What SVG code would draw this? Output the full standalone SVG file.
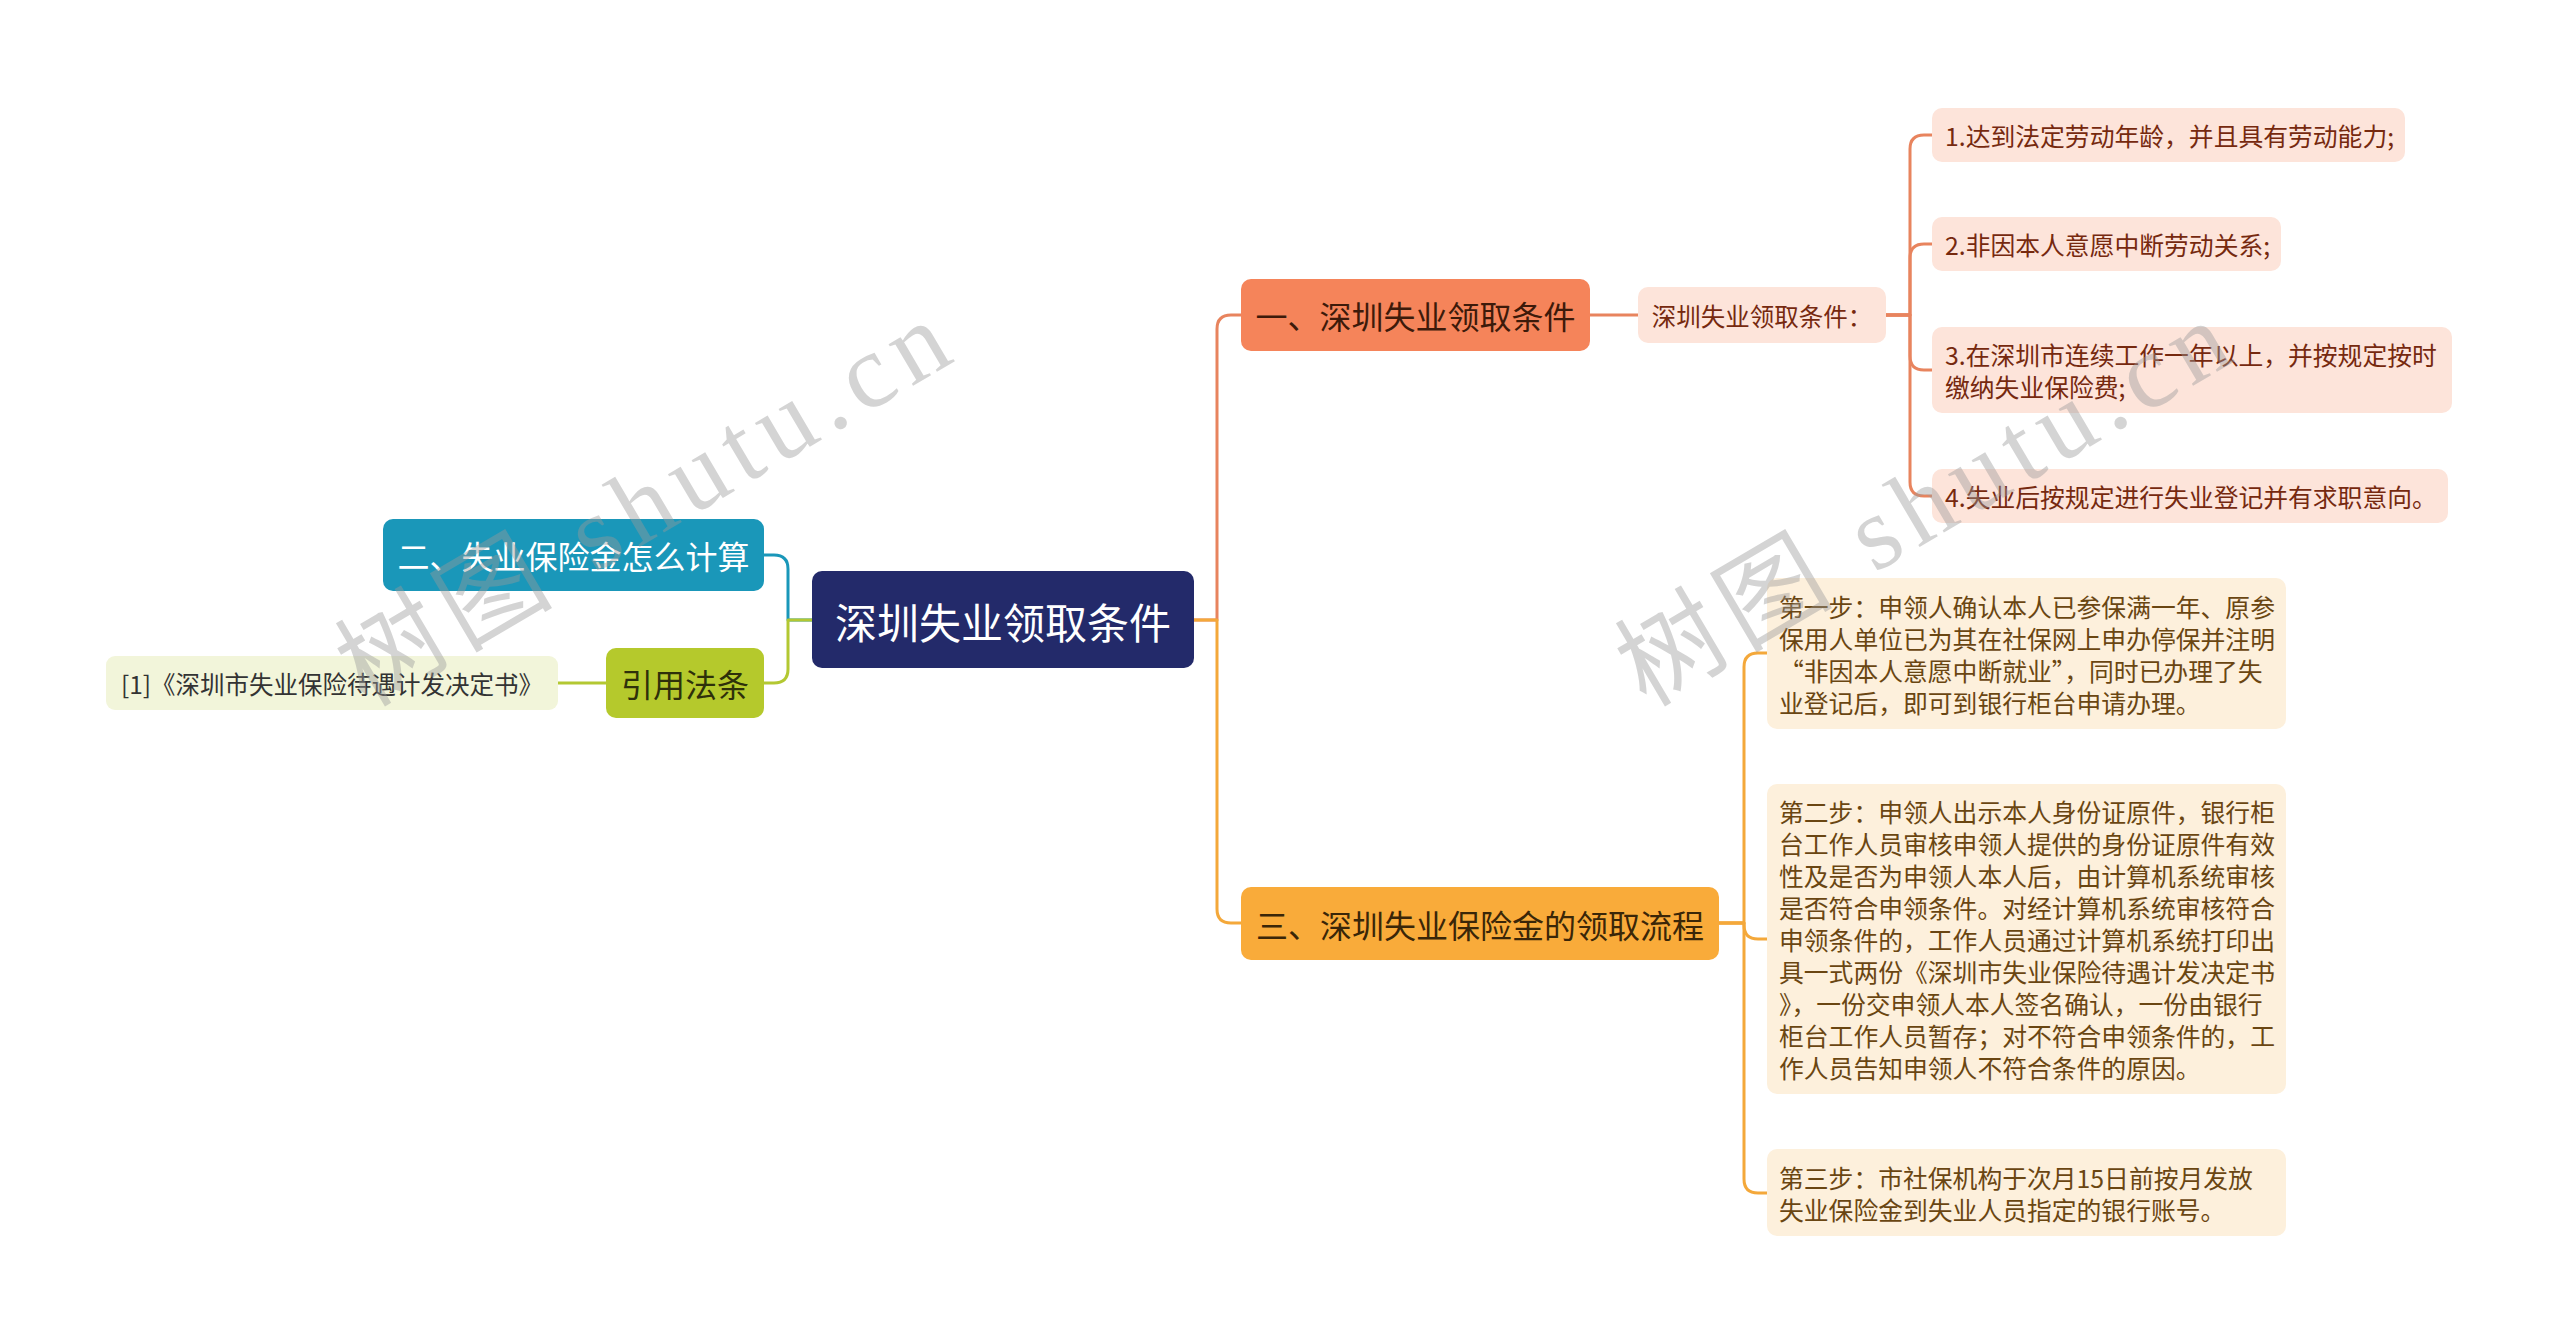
<svg xmlns="http://www.w3.org/2000/svg" width="2560" height="1344" viewBox="0 0 2560 1344">
<style>
text{font-family:"Noto Sans CJK SC","Noto Sans",sans-serif}
.c{fill:none;stroke-width:3;stroke-linecap:round;stroke-linejoin:round}
.or{stroke:#e8845e}.ye{stroke:#f4a83a}.te{stroke:#1a97b9}.gr{stroke:#b3c832}
.mid{text-anchor:middle;dominant-baseline:central}
.big{font-size:32px}
.sm{font-size:24.8px;dominant-baseline:central}
.leafO{fill:#fde4da}.tO{fill:#76290f}
.leafY{fill:#fdf0dc}.tY{fill:#6a4612}
.wm{font-family:"Liberation Serif","Noto Sans CJK SC",serif;font-size:105px;fill:#9a9a9a;opacity:0.42}
</style>
<rect width="2560" height="1344" fill="#ffffff"/>
<g id="connectors">
<path class="c or" d="M1194,620 H1217 V329 Q1217,315 1231,315 H1241"/>
<path class="c ye" d="M1194,620 H1217 V909 Q1217,923 1231,923 H1241"/>
<path class="c or" d="M1590,315 H1638"/>
<path class="c or" d="M1886,315 H1910 V149 Q1910,135 1924,135 H1932"/>
<path class="c or" d="M1886,315 H1910 V258 Q1910,244 1924,244 H1932"/>
<path class="c or" d="M1886,315 H1910 V356 Q1910,370 1924,370 H1932"/>
<path class="c or" d="M1886,315 H1910 V482 Q1910,496 1924,496 H1932"/>
<path class="c ye" d="M1719,923 H1744 V667 Q1744,653 1758,653 H1767"/>
<path class="c ye" d="M1719,923 H1744 V925 Q1744,939 1758,939 H1767"/>
<path class="c ye" d="M1719,923 H1744 V1179 Q1744,1193 1758,1193 H1767"/>
<path class="c te" d="M812,620 H788 V569 Q788,555 774,555 H764"/>
<path class="c gr" d="M812,620 H788 V669 Q788,683 774,683 H764"/>
<path class="c gr" d="M606,683 H558"/>
</g>
<g id="root">
<rect x="812" y="571" width="382" height="97" rx="10" fill="#232a6a"/>
<text class="mid" x="1003" y="620" font-size="42" fill="#ffffff">深圳失业领取条件</text>
</g>
<g id="n2">
<rect x="383" y="519" width="381" height="72" rx="10" fill="#1a97b9"/>
<text class="mid big" x="573.5" y="555" fill="#ffffff">二、失业保险金怎么计算</text>
</g>
<g id="cite">
<rect x="606" y="648" width="158" height="70" rx="10" fill="#b5c92c"/>
<text class="mid big" x="685" y="683" fill="#2e300a">引用法条</text>
</g>
<g id="cite1">
<rect x="106" y="656" width="452" height="54" rx="9" fill="#f2f5da"/>
<text class="mid" x="332" y="683" font-size="24.5" fill="#333333">[1]《深圳市失业保险待遇计发决定书》</text>
</g>
<g id="n1">
<rect x="1241" y="279" width="349" height="72" rx="10" fill="#f5845a"/>
<text class="mid big" x="1415.5" y="315" fill="#3d1a0a">一、深圳失业领取条件</text>
</g>
<g id="n1a">
<rect x="1638" y="287" width="248" height="56" rx="10" class="leafO"/>
<text class="mid tO" x="1762" y="315" font-size="24.5">深圳失业领取条件：</text>
</g>
<g id="c1">
<rect x="1932" y="108" width="473" height="54" rx="10" class="leafO"/>
<text class="sm tO" x="1945" y="135">1.达到法定劳动年龄，并且具有劳动能力;</text>
</g>
<g id="c2">
<rect x="1932" y="217" width="349" height="54" rx="10" class="leafO"/>
<text class="sm tO" x="1945" y="244">2.非因本人意愿中断劳动关系;</text>
</g>
<g id="c3">
<rect x="1932" y="327" width="520" height="86" rx="10" class="leafO"/>
<text class="sm tO" x="1945" y="354">3.在深圳市连续工作一年以上，并按规定按时</text>
<text class="sm tO" x="1945" y="386">缴纳失业保险费;</text>
</g>
<g id="c4">
<rect x="1932" y="469" width="516" height="54" rx="10" class="leafO"/>
<text class="sm tO" x="1945" y="496">4.失业后按规定进行失业登记并有求职意向。</text>
</g>
<g id="n3">
<rect x="1241" y="887" width="478" height="73" rx="10" fill="#f9ab3a"/>
<text class="mid big" x="1480" y="923.5" fill="#3a2608">三、深圳失业保险金的领取流程</text>
</g>
<g id="s1">
<rect x="1767" y="578" width="519" height="151" rx="10" class="leafY"/>
<text class="sm tY" x="1779" y="606">第一步：申领人确认本人已参保满一年、原参</text>
<text class="sm tY" x="1779" y="638">保用人单位已为其在社保网上申办停保并注明</text>
<text class="sm tY" x="1779" y="670">“非因本人意愿中断就业”，同时已办理了失</text>
<text class="sm tY" x="1779" y="702">业登记后，即可到银行柜台申请办理。</text>
</g>
<g id="s2">
<rect x="1767" y="784" width="519" height="310" rx="10" class="leafY"/>
<text class="sm tY" x="1779" y="811">第二步：申领人出示本人身份证原件，银行柜</text>
<text class="sm tY" x="1779" y="843">台工作人员审核申领人提供的身份证原件有效</text>
<text class="sm tY" x="1779" y="875">性及是否为申领人本人后，由计算机系统审核</text>
<text class="sm tY" x="1779" y="907">是否符合申领条件。对经计算机系统审核符合</text>
<text class="sm tY" x="1779" y="939">申领条件的，工作人员通过计算机系统打印出</text>
<text class="sm tY" x="1779" y="971">具一式两份《深圳市失业保险待遇计发决定书</text>
<text class="sm tY" x="1779" y="1003">》，一份交申领人本人签名确认，一份由银行</text>
<text class="sm tY" x="1779" y="1035">柜台工作人员暂存；对不符合申领条件的，工</text>
<text class="sm tY" x="1779" y="1067">作人员告知申领人不符合条件的原因。</text>
</g>
<g id="s3">
<rect x="1767" y="1149" width="519" height="87" rx="10" class="leafY"/>
<text class="sm tY" x="1779" y="1177">第三步：市社保机构于次月15日前按月发放</text>
<text class="sm tY" x="1779" y="1209">失业保险金到失业人员指定的银行账号。</text>
</g>
<g id="watermarks">
<text class="wm" transform="translate(366,708) rotate(-30.5)" textLength="685" lengthAdjust="spacing">树图 shutu.cn</text>
<text class="wm" transform="translate(1646,708) rotate(-30.5)" textLength="685" lengthAdjust="spacing">树图 shutu.cn</text>
</g>
</svg>
